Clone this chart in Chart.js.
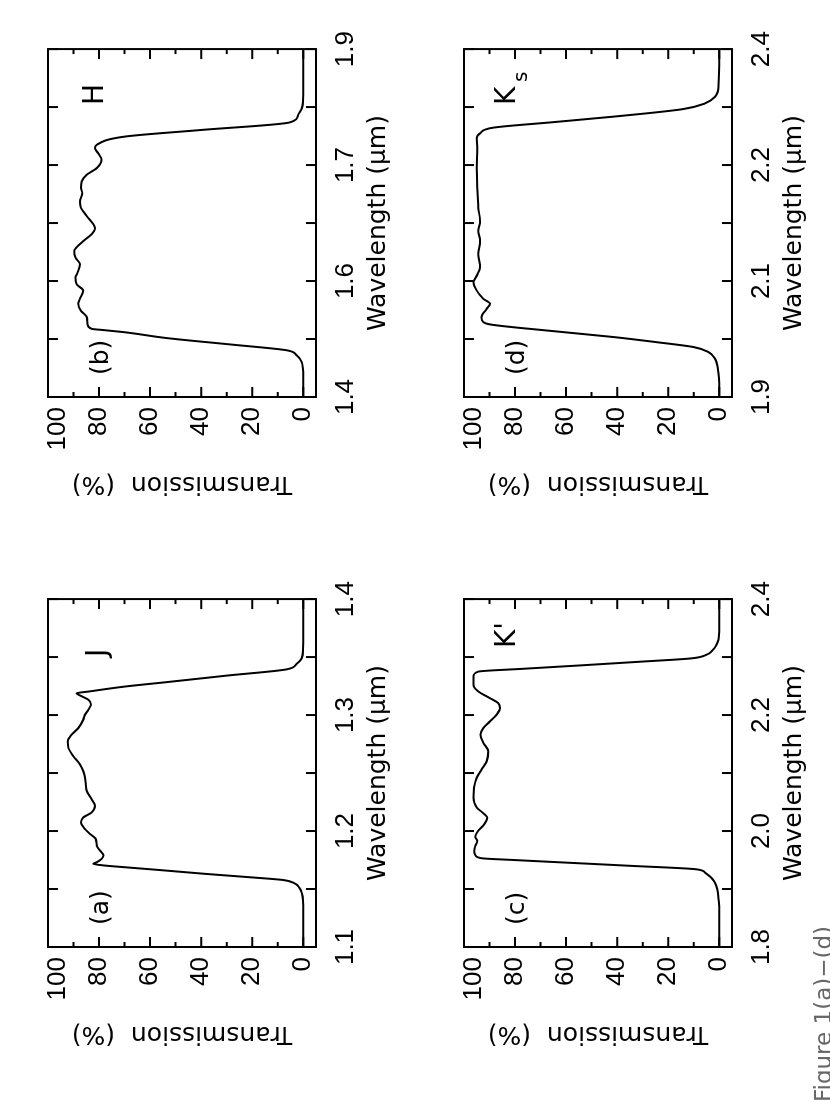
<!DOCTYPE html>
<html>
<head>
<meta charset="utf-8">
<script src="https://cdn.jsdelivr.net/npm/chart.js@4.4.1/dist/chart.umd.min.js"></script>
<style>
  html, body { margin: 0; padding: 0; background: #fff; overflow: hidden; }
  #page { position: absolute; left: 0; top: 0; width: 1102px; height: 830px; transform-origin: 0 0; transform: translate(0, 1102px) rotate(-90deg); }
  #page canvas { position: absolute; width: 530px; height: 400px; }
  #caption { position: absolute; left: 0; top: 812px; font: 23px "DejaVu Sans", sans-serif; line-height: 23px; color: #666; white-space: nowrap; }
</style>
</head>
<body>
<div id="page">
  <canvas id="panelA" width="530" height="400" style="left:5px;top:8px"></canvas>
  <canvas id="panelB" width="530" height="400" style="left:555px;top:8px"></canvas>
  <canvas id="panelC" width="530" height="400" style="left:5px;top:424px"></canvas>
  <canvas id="panelD" width="530" height="400" style="left:555px;top:424px"></canvas>
  <div id="caption">Figure 1(a)−(d)</div>
</div>
<script>
// transmission curves (wavelength in micron, transmission in %)
const jWave = [1.100, 1.130, 1.140, 1.146, 1.151, 1.155, 1.1578, 1.160, 1.163, 1.1665, 1.1688, 1.1703, 1.1717, 1.1731, 1.1760, 1.1789, 1.1831, 1.1874, 1.1932, 1.1974, 1.2017, 1.2074, 1.2117, 1.2160, 1.2217, 1.2274, 1.2346, 1.2403, 1.2460, 1.2517, 1.2575, 1.2646, 1.2717, 1.2774, 1.2832, 1.2888, 1.2960, 1.3003, 1.3046, 1.3089, 1.3132, 1.3169, 1.3188, 1.3203, 1.3246, 1.3285, 1.3340, 1.3394, 1.3441, 1.3490, 1.3570, 1.370, 1.400]
const jTrans = [0, 0, 0.1, 0.5, 1.5, 3.5, 8, 20, 38, 57, 70, 78, 82.3, 80.9, 79.0, 78.3, 79.6, 80.9, 81.3, 83.5, 85.5, 87.1, 86.2, 82.9, 81.6, 82.9, 84.8, 85.2, 85.5, 86.2, 87.5, 90.1, 92.0, 92.3, 90.7, 88.1, 86.2, 85.5, 84.2, 83.2, 84.2, 87.5, 88.8, 84, 69.8, 53, 30, 6.5, 2.6, 0.6, 0.1, 0, 0]

const hWave = [1.400, 1.430, 1.440, 1.4504, 1.460, 1.4671, 1.4751, 1.4847, 1.4930, 1.4960, 1.4980, 1.5050, 1.5150, 1.5240, 1.5340, 1.5410, 1.5530, 1.5620, 1.5720, 1.5780, 1.5910, 1.6000, 1.6100, 1.6150, 1.6240, 1.6340, 1.6430, 1.6600, 1.6720, 1.6810, 1.6930, 1.7004, 1.7100, 1.7196, 1.7290, 1.7410, 1.7500, 1.7576, 1.7624, 1.7743, 1.7836, 1.7947, 1.8053, 1.8147, 1.8243, 1.850, 1.900]
const hTrans = [0, 0, 0.1, 0.6, 2.6, 6.4, 27.4, 53.5, 69.8, 77.7, 82.9, 84.5, 84.8, 87.1, 88.1, 87.5, 86.2, 88.8, 89.2, 88.5, 87.5, 89.2, 89.7, 88.8, 86.2, 82.9, 81.6, 84.8, 87.1, 87.5, 86.6, 87.1, 86.8, 84.8, 80.9, 79.0, 80.3, 81.6, 80.9, 69.8, 40.5, 5.2, 2.0, 0.6, 0.1, 0, 0]

const kpWave = [1.800, 1.860, 1.880, 1.900, 1.912, 1.920, 1.928, 1.934, 1.940, 1.945, 1.950, 1.953, 1.958, 1.966, 1.975, 1.983, 1.990, 2.000, 2.012, 2.023, 2.032, 2.0405, 2.0577, 2.0748, 2.0920, 2.1063, 2.1206, 2.1377, 2.1520, 2.1663, 2.1777, 2.1892, 2.2006, 2.2120, 2.2206, 2.2291, 2.2406, 2.2520, 2.2663, 2.2749, 2.2800, 2.2860, 2.2920, 2.2977, 2.3040, 2.3110, 2.3200, 2.3300, 2.350, 2.400]
const kpTrans = [0, 0, 0.2, 0.8, 1.8, 3.2, 5.5, 9, 34.8, 57.6, 80.4, 93, 95.5, 96.0, 95.5, 94.8, 95.6, 94.5, 92.0, 90.9, 92.8, 95.0, 96.3, 96.1, 95.0, 93.1, 91.1, 90.5, 92.4, 93.5, 92.4, 89.8, 87.2, 85.9, 86.6, 89.8, 94.4, 96.3, 96.3, 94.4, 76, 53, 31, 11, 5, 2.8, 1.2, 0.3, 0, 0]

const ksWave = [1.900, 1.920, 1.9338, 1.9553, 1.9647, 1.9719, 1.9790, 1.9862, 1.9950, 2.0043, 2.0076, 2.0147, 2.0267, 2.0338, 2.0410, 2.0529, 2.0648, 2.0743, 2.0862, 2.1053, 2.1243, 2.1386, 2.1529, 2.1719, 2.2004, 2.2290, 2.2576, 2.2719, 2.2790, 2.2871, 2.2950, 2.3029, 2.3138, 2.3219, 2.3314, 2.3481, 2.400]
const ksTrans = [0, 0, 0.3, 1.7, 4.3, 10.2, 25, 41.5, 66, 89.8, 92.4, 93.1, 91.1, 89.8, 92.4, 95.0, 96.3, 95.0, 93.7, 94.4, 93.7, 94.4, 93.7, 94.4, 94.8, 95.0, 94.8, 95.0, 93.7, 88.5, 65, 41.5, 14.1, 5.6, 1.7, 0.3, 0]

// tick labels (6 intervals per wavelength axis, every second one labelled)
const jTicks = ['1.1', '', '1.2', '', '1.3', '', '1.4']
const hTicks = ['1.4', '', '1.6', '', '1.7', '', '1.9']
const kpTicks = ['1.8', '', '2.0', '', '2.2', '', '2.4']
const ksTicks = ['1.9', '', '2.1', '', '2.2', '', '2.4']
const transTicks = [0, 10, 20, 30, 40, 50, 60, 70, 80, 90, 100]
const transLabels = ['0', '', '20', '', '40', '', '60', '', '80', '', '']
const transTopLabel = '100'

const tickFont = { family: 'Liberation Sans', size: 26 }
const titleFont = { family: 'DejaVu Sans', size: 25 }

// box, inward ticks on all four sides and the panel labels
const frameTicks = {
  id: 'frameTicks',
  afterDatasetsDraw(chart, args, opts) {
    const { ctx, chartArea: a, scales: { x, y } } = chart
    ctx.save()
    ctx.strokeStyle = '#000'
    ctx.lineWidth = 2
    ctx.beginPath()
    for (const t of x.ticks) {
      const px = x.getPixelForValue(t.value)
      ctx.moveTo(px, a.bottom); ctx.lineTo(px, a.bottom - 10)
      ctx.moveTo(px, a.top); ctx.lineTo(px, a.top + 10)
    }
    for (const t of y.ticks) {
      const py = y.getPixelForValue(t.value)
      const len = t.value % 20 === 0 ? 10 : 5
      ctx.moveTo(a.left, py); ctx.lineTo(a.left + len, py)
      ctx.moveTo(a.right, py); ctx.lineTo(a.right - len, py)
    }
    ctx.stroke()
    ctx.strokeRect(a.left, a.top, a.width, a.height)

    ctx.fillStyle = '#000'
    // top label of the transmission axis sits just inside the box edge
    ctx.font = '26px "Liberation Sans"'
    ctx.textAlign = 'right'
    ctx.textBaseline = 'middle'
    ctx.fillText(transTopLabel, a.left - 10, y.getPixelForValue(100) + 10)

    ctx.textAlign = 'left'
    ctx.font = '25px "DejaVu Sans"'
    ctx.fillText(opts.tag, a.left + 22, a.top + 53)
    ctx.font = '28px "DejaVu Sans"'
    ctx.fillText(opts.band, a.right - opts.bandX, a.top + opts.bandY)
    if (opts.sub) {
      ctx.font = '20px "DejaVu Sans"'
      ctx.fillText(opts.sub, a.right - 33, a.top + opts.bandY + 14)
    }
    ctx.restore()
  }
}

const makePanel = (id, wave, trans, xMin, xMax, xLabels, labels) => {
  const xValues = xLabels.map((_, i) => xMin + i * (xMax - xMin) / (xLabels.length - 1))
  new Chart(document.getElementById(id), {
    type: 'line',
    data: {
      datasets: [{
        data: wave.map((w, i) => ({ x: w, y: trans[i] })),
        borderColor: '#000',
        borderWidth: 2,
        pointRadius: 0,
        cubicInterpolationMode: 'monotone',
        fill: false
      }]
    },
    options: {
      responsive: false,
      animation: false,
      events: [],
      layout: { padding: { top: 40, right: 30, left: 0, bottom: 0 } },
      plugins: {
        legend: { display: false },
        tooltip: { enabled: false },
        frameTicks: labels
      },
      scales: {
        x: {
          type: 'linear',
          min: xMin,
          max: xMax,
          afterBuildTicks: s => { s.ticks = xValues.map(v => ({ value: v })) },
          afterFit: s => { s.height = 92 },
          grid: { display: false, drawTicks: false },
          border: { display: false },
          ticks: { autoSkip: false, maxRotation: 0, padding: 14, color: '#000', font: tickFont, callback: (v, i) => xLabels[i] },
          title: { display: true, text: 'Wavelength (μm)', color: '#000', font: titleFont, padding: { top: 0, bottom: 15 } }
        },
        y: {
          type: 'linear',
          min: -5,
          max: 100,
          afterBuildTicks: s => { s.ticks = transTicks.map(v => ({ value: v })) },
          afterFit: s => { s.width = 150 },
          grid: { display: false, drawTicks: false },
          border: { display: false },
          ticks: { autoSkip: false, padding: 10, color: '#000', font: tickFont, callback: (v, i) => transLabels[i] },
          title: { display: true, text: 'Transmission  (%)', color: '#000', font: titleFont, padding: { top: 48, bottom: 0 } }
        }
      }
    },
    plugins: [frameTicks]
  })
}

makePanel('panelA', jWave, jTrans, 1.1, 1.4, jTicks, { tag: '(a)', band: 'J', bandX: 58, bandY: 51 })
makePanel('panelB', hWave, hTrans, 1.4, 1.9, hTicks, { tag: '(b)', band: 'H', bandX: 56, bandY: 48 })
makePanel('panelC', kpWave, kpTrans, 1.8, 2.4, kpTicks, { tag: '(c)', band: "K'", bandX: 49, bandY: 44 })
makePanel('panelD', ksWave, ksTrans, 1.9, 2.4, ksTicks, { tag: '(d)', band: 'K', sub: 's', bandX: 56, bandY: 44 })
</script>
</body>
</html>
